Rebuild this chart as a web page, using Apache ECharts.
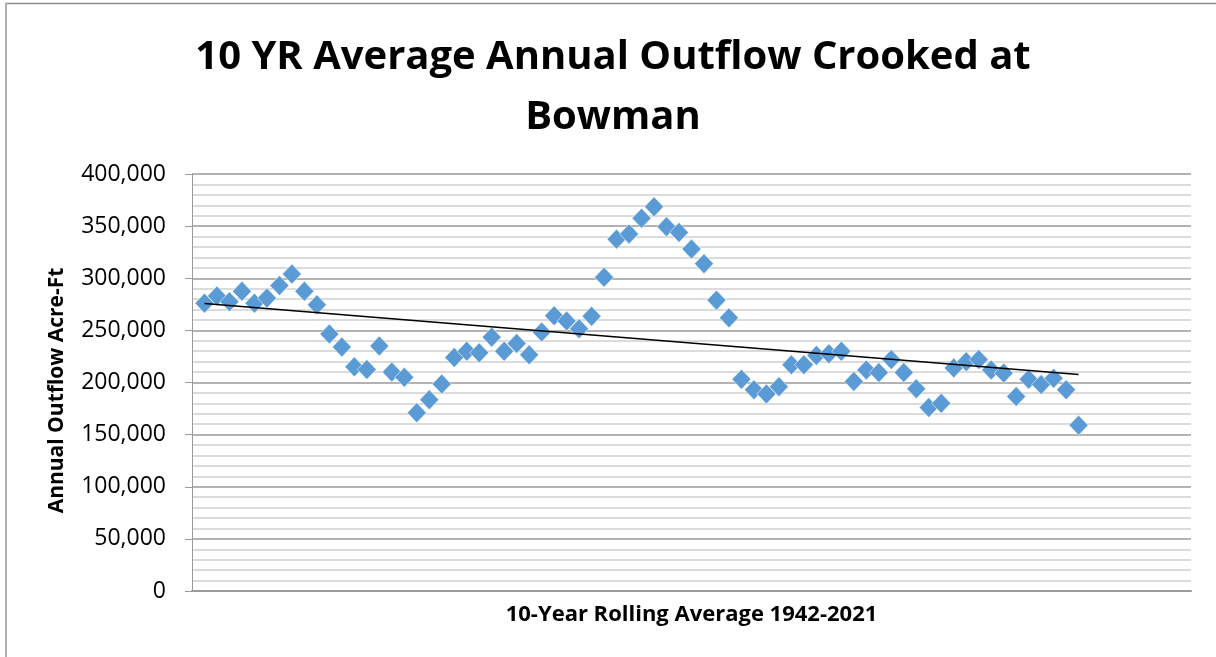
<!DOCTYPE html>
<html>
<head>
<meta charset="utf-8">
<script src="https://cdn.jsdelivr.net/npm/echarts@6/dist/echarts.min.js"></script>
<style>
html,body{margin:0;padding:0;background:#fff;}
#chart{width:1216px;height:657px;}
</style>
</head>
<body>
<div id="chart"></div>
<script>
const titleText = '10 YR Average Annual Outflow Crooked at\nBowman';
const yAxisTitle = 'Annual Outflow Acre-Ft';
const xAxisTitle = '10-Year Rolling Average 1942-2021';
const yTicks = [0, 50000, 100000, 150000, 200000, 250000, 300000, 350000, 400000];
const outflow = [276000, 283000, 277500, 287500, 276000, 281000, 293000, 304000, 287500, 274500,
  246500, 234000, 215000, 212500, 235000, 210000, 205000, 171000, 183500, 198500,
  224000, 230000, 228500, 243500, 230000, 237500, 226500, 248500, 264000, 259000,
  251500, 263500, 301000, 337500, 342500, 357500, 368500, 349500, 344000, 328000,
  314000, 279000, 262000, 203000, 193000, 189000, 196000, 217000, 217000, 226000,
  227500, 230000, 201000, 212000, 209500, 222000, 209500, 194000, 176000, 180000,
  214000, 220000, 222000, 212000, 209000, 186500, 203000, 198000, 204000, 193000, 159000];

const points = outflow.map((v, i) => [i + 1, v]);
// linear trendline (least squares) from the data
const n = points.length;
let sx = 0, sy = 0, sxy = 0, sxx = 0;
points.forEach(([x, y]) => { sx += x; sy += y; sxy += x * y; sxx += x * x; });
const slope = (n * sxy - sx * sy) / (n * sxx - sx * sx);
const icpt = (sy - slope * sx) / n;
const trend = [[1, icpt + slope], [n, icpt + slope * n]];

const chart = echarts.init(document.getElementById('chart'));
const font = '"Open Sans", "Liberation Sans", sans-serif';
chart.setOption({
  animation: false,
  backgroundColor: '#fff',
  title: {
    text: titleText,
    left: 608, top: 23, textAlign: 'center',
    textStyle: { fontFamily: font, fontSize: 40, fontWeight: 'bold', color: '#000', lineHeight: 60 }
  },
  graphic: [
    { type: 'line', shape: { x1: 5, y1: 3.5, x2: 1216, y2: 3.5 }, style: { stroke: '#8c8c8c', lineWidth: 1.5 } },
    { type: 'line', shape: { x1: 6, y1: 3, x2: 6, y2: 657 }, style: { stroke: '#b0b0b0', lineWidth: 2 } }
  ],
  grid: { left: 192, right: 25, top: 174, bottom: 66, containLabel: false },
  xAxis: {
    type: 'value', min: 0, max: 80,
    axisLine: { show: true, lineStyle: { color: '#9a9a9a', width: 2 } },
    axisTick: { show: false }, axisLabel: { show: false }, splitLine: { show: false },
    name: xAxisTitle, nameLocation: 'middle', nameGap: 13,
    nameTextStyle: { fontFamily: font, fontSize: 22, fontWeight: 'bold', color: '#000' }
  },
  yAxis: {
    type: 'value', min: yTicks[0], max: yTicks[yTicks.length - 1], interval: yTicks[1] - yTicks[0],
    axisLine: { show: true, lineStyle: { color: '#9a9a9a', width: 1 } },
    axisTick: { show: true, inside: false, length: 7, lineStyle: { color: '#9a9a9a' } },
    axisLabel: { fontFamily: font, fontSize: 23, color: '#000', margin: 26,
      formatter: v => v.toLocaleString('en-US') },
    splitLine: { show: true, lineStyle: { color: '#9a9a9a', width: 1.5 } },
    minorTick: { show: false, splitNumber: 5 },
    minorSplitLine: { show: true, lineStyle: { color: '#cfcfcf', width: 1.5 } },
    name: yAxisTitle, nameLocation: 'middle', nameGap: 124, nameRotate: 90,
    nameTextStyle: { fontFamily: font, fontSize: 21, fontWeight: 'bold', color: '#000', padding: [0, 16, 0, 0] }
  },
  series: [
    {
      type: 'scatter', data: points, symbol: 'diamond', symbolSize: [19, 20],
      itemStyle: { color: '#5B9BD5', borderColor: 'rgba(255,255,255,0.7)', borderWidth: 0.8, opacity: 1 },
      z: 3
    },
    {
      type: 'line', data: trend, symbol: 'none', silent: true,
      lineStyle: { color: '#000', width: 1.5 }, z: 4
    }
  ]
});
</script>
</body>
</html>
